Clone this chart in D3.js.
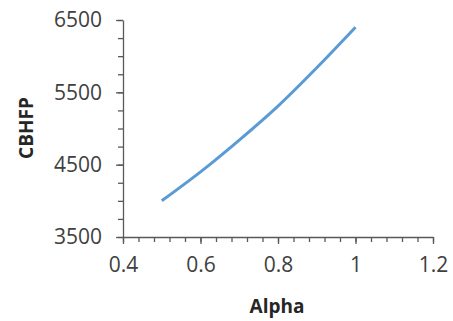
<!DOCTYPE html>
<html>
<head>
<meta charset="utf-8">
<script src="https://cdn.jsdelivr.net/npm/d3@7"></script>
<style>
  body { margin: 0; background: #fff; }
  .axis text { font-family: "Open Sans", sans-serif; font-size: 21px; fill: #404040; }
  .axis path, .axis line { stroke: #595959; stroke-width: 1.3; }
  .title { font-family: "Open Sans", sans-serif; font-weight: bold; font-size: 19px; fill: #262626; }
</style>
</head>
<body>
<div id="chart"></div>
<script>
const alpha = [0.5, 0.6, 0.7, 0.8, 0.9, 1.0];
const cbhfp = [4000, 4400, 4840, 5310, 5840, 6400];
const xTicks = [0.4, 0.6, 0.8, 1, 1.2];
const yTicks = [3500, 4500, 5500, 6500];

const width = 453;
const height = 321;
const margin = {top: 20, right: 20, bottom: 84, left: 123};
const innerWidth = width - margin.left - margin.right;
const innerHeight = height - margin.top - margin.bottom;

const svg = d3.select(`#chart`)
  .append(`svg`)
    .attr(`width`, width)
    .attr(`height`, height);

const g = svg.append(`g`)
  .attr(`transform`, `translate(${margin.left}, ${margin.top})`);

const x = d3.scaleLinear().domain([0.4, 1.2]).range([0, innerWidth]);
const y = d3.scaleLinear().domain([3500, 6500]).range([innerHeight, 0]);

// minor ticks
const xMinor = g.append(`g`)
  .attr(`class`, `axis`)
  .attr(`transform`, `translate(0, ${innerHeight})`)
  .call(d3.axisBottom(x).tickValues(d3.range(0.4, 1.2001, 0.04)).tickSize(5).tickFormat(``));
xMinor.select(`.domain`).remove();
xMinor.selectAll(`text`).remove();

const yMinor = g.append(`g`)
  .attr(`class`, `axis`)
  .call(d3.axisLeft(y).tickValues(d3.range(3500, 6501, 250)).tickSize(5).tickFormat(``));
yMinor.select(`.domain`).remove();
yMinor.selectAll(`text`).remove();

// major axes
g.append(`g`)
  .attr(`class`, `axis`)
  .attr(`transform`, `translate(0, ${innerHeight})`)
  .call(d3.axisBottom(x).tickValues(xTicks).tickSize(7).tickSizeOuter(0).tickPadding(13).tickFormat(d3.format(`~g`)));

g.append(`g`)
  .attr(`class`, `axis`)
  .call(d3.axisLeft(y).tickValues(yTicks).tickSize(7).tickSizeOuter(0).tickPadding(14).tickFormat(d3.format(`d`)));

const line = d3.line()
  .x((d, i) => x(alpha[i]))
  .y(d => y(d))
  .curve(d3.curveCatmullRom);

g.append(`path`)
  .datum(cbhfp)
  .attr(`fill`, `none`)
  .attr(`stroke`, `#5b9bd5`)
  .attr(`stroke-width`, 3)
  .attr(`d`, line);

// Axis titles
svg.append(`text`)
  .attr(`class`, `title`)
  .attr(`text-anchor`, `middle`)
  .attr(`transform`, `translate(${margin.left + innerWidth / 2 - 1}, 313)`)
  .text(`Alpha`);

svg.append(`text`)
  .attr(`class`, `title`)
  .attr(`text-anchor`, `middle`)
  .attr(`transform`, `translate(33, 128) rotate(-90)`)
  .text(`CBHFP`);
</script>
</body>
</html>
